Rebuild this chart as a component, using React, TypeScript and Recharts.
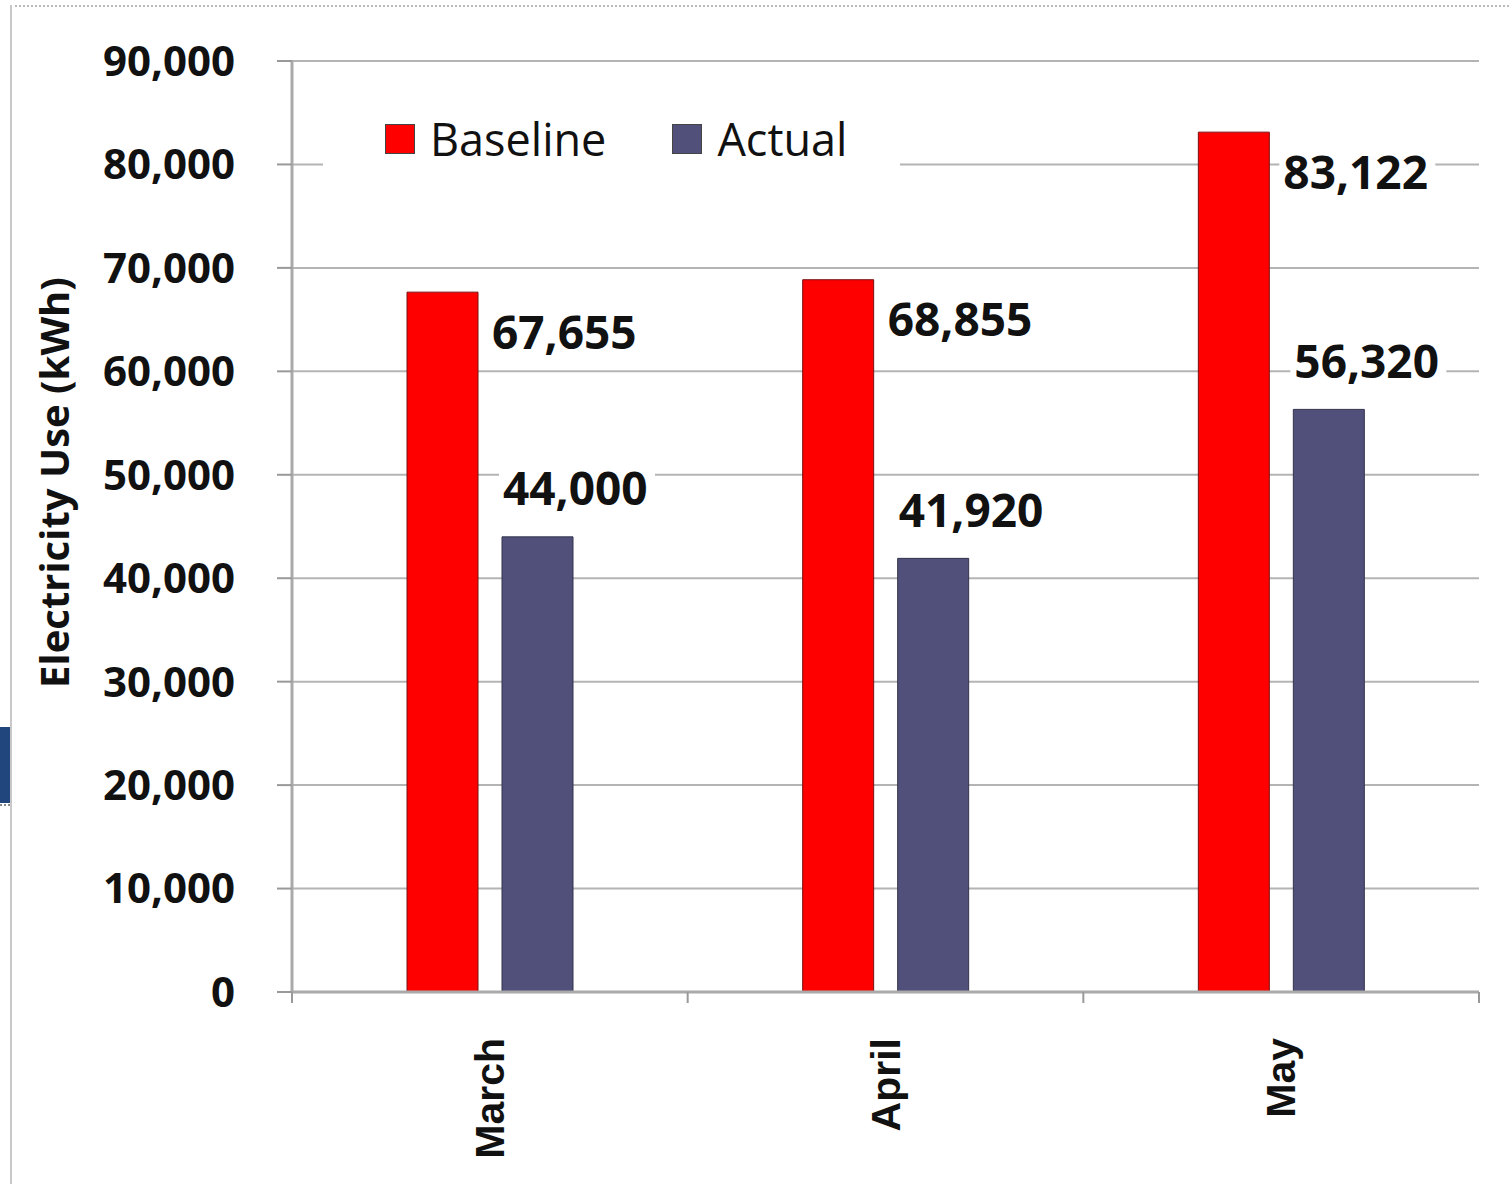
import React from "react";
import { BarChart, Bar, XAxis, YAxis, CartesianGrid, Legend, LabelList } from "recharts";

const months = ["March", "April", "May"];
const baselineUse = [67655, 68855, 83122];
const actualUse = [44000, 41920, 56320];
const yTicks = [0, 10000, 20000, 30000, 40000, 50000, 60000, 70000, 80000, 90000];
const seriesNames = ["Baseline", "Actual"];

const BASE_RED = "#fe0000";
const ACTUAL_SLATE = "#50507a";
const GRID = "#b4b4b4";

const data = months.map((month, i) => ({
  month,
  Baseline: baselineUse[i],
  Actual: actualUse[i],
}));

const fmt = (v: number) => Number(v).toLocaleString("en-US");

const LabelBox = ({ tx, ty, value }: { tx: number; ty: number; value: number }) => (
  <g>
    <rect x={tx - 4} y={ty - 26} width={156} height={52} fill="#fff" />
    <text
      x={tx}
      y={ty}
      dy="0.36em"
      fontFamily="'Open Sans', sans-serif"
      fontWeight={700}
      fontSize={46}
      fill="#111"
    >
      {fmt(value)}
    </text>
  </g>
);

const BaselineLabel = (props: any) => {
  const { x, y, width, value } = props;
  return <LabelBox tx={x + width + 14} ty={y + 40} value={value} />;
};

const ActualLabel = (props: any) => {
  const { x, y, value } = props;
  return <LabelBox tx={x + 1} ty={y - 48} value={value} />;
};

const MonthTick = (props: any) => {
  const { x, y, payload, index, visibleTicksCount } = props;
  const half = payload?.offset ?? 0;
  const last = index === visibleTicksCount - 1;
  return (
    <g>
      <line x1={x - half} x2={x - half} y1={y - 11} y2={y} stroke="#999" strokeWidth={2} />
      {last && <line x1={x + half} x2={x + half} y1={y - 11} y2={y} stroke="#999" strokeWidth={2} />}
      <text
        x={x}
        y={y + 35}
        transform={`rotate(-90 ${x} ${y + 35})`}
        textAnchor="end"
        dominantBaseline="central"
        fontFamily="'Liberation Sans', Arial, sans-serif"
        fontWeight={700}
        fontSize={41}
        fill="#111"
      >
        {payload.value}
      </text>
    </g>
  );
};

const YTitle = (props: any) => {
  const { viewBox } = props;
  const cy = viewBox.y + viewBox.height / 2 - 44;
  return (
    <text
      x={53}
      y={cy}
      transform={`rotate(-90 53 ${cy})`}
      textAnchor="middle"
      dominantBaseline="central"
      fontFamily="'Open Sans', sans-serif"
      fontWeight={700}
      fontSize={40}
      fill="#111"
    >
      Electricity Use (kWh)
    </text>
  );
};

const LegendBox = (props: any) => {
  const items = [...(props.payload || [])].sort(
    (a: any, b: any) => seriesNames.indexOf(a.value) - seriesNames.indexOf(b.value)
  );
  return (
    <div
      style={{
        background: "#fff",
        width: 577,
        height: 80,
        display: "flex",
        alignItems: "center",
        paddingLeft: 62,
        boxSizing: "border-box",
        fontFamily: "'Open Sans', sans-serif",
        fontSize: 45,
        color: "#111",
      }}
    >
      {items.map((it: any) => (
        <div key={it.value} style={{ display: "flex", alignItems: "center", marginRight: 66 }}>
          <span
            style={{
              display: "inline-block",
              width: 28,
              height: 28,
              background: it.color,
              border: "1px solid #444",
              marginRight: 15,
            }}
          />
          <span style={{ lineHeight: "60px" }}>{it.value}</span>
        </div>
      ))}
    </div>
  );
};

export default function App() {
  return (
    <div
      style={{
        position: "absolute",
        left: 0,
        top: 0,
        width: 1509,
        height: 1184,
        background: "#fff",
        overflow: "hidden",
      }}
    >
      {/* slide frame fragments */}
      <div style={{ position: "absolute", left: 10, top: 5, width: 1499, borderTop: "2px dotted #bbb" }} />
      <div style={{ position: "absolute", left: 10, top: 5, width: 2, height: 1179, background: "#c8c8c8" }} />
      <div style={{ position: "absolute", left: 0, top: 727, width: 10, height: 76, background: "#21467e" }} />
      <div style={{ position: "absolute", left: 0, top: 804, width: 10, borderTop: "2px dotted #888" }} />

      <BarChart
        width={1509}
        height={1184}
        data={data}
        margin={{ top: 61, right: 30, left: 0, bottom: 0 }}
        barSize={71}
        barGap={24}
      >
        <CartesianGrid vertical={false} stroke={GRID} strokeWidth={2} />
        <YAxis
          width={292}
          domain={[0, 90000]}
          ticks={yTicks}
          interval={0}
          tickFormatter={fmt}
          axisLine={{ stroke: "#aaa", strokeWidth: 3 }}
          tickLine={{ stroke: "#999", strokeWidth: 2 }}
          tickSize={15}
          tickMargin={42}
          tick={{ fontFamily: "'Open Sans', sans-serif", fontWeight: 700, fontSize: 42, fill: "#111" }}
          label={<YTitle />}
        />
        <XAxis
          dataKey="month"
          height={192}
          interval={0}
          axisLine={{ stroke: "#aaa", strokeWidth: 3 }}
          tickLine={{ stroke: "transparent" }}
          tickSize={11}
          tickMargin={0}
          tick={<MonthTick />}
        />
        <Legend
          layout="horizontal"
          verticalAlign="middle"
          align="center"
          wrapperStyle={{ top: 99, left: 323, width: 577, height: 80 }}
          content={<LegendBox />}
        />
        <Bar dataKey={seriesNames[0]} fill={BASE_RED} stroke="#7a1010" strokeWidth={1} isAnimationActive={false}>
          <LabelList dataKey={seriesNames[0]} content={<BaselineLabel />} />
        </Bar>
        <Bar dataKey={seriesNames[1]} fill={ACTUAL_SLATE} stroke="#33334d" strokeWidth={1} isAnimationActive={false}>
          <LabelList dataKey={seriesNames[1]} content={<ActualLabel />} />
        </Bar>
      </BarChart>
    </div>
  );
}
